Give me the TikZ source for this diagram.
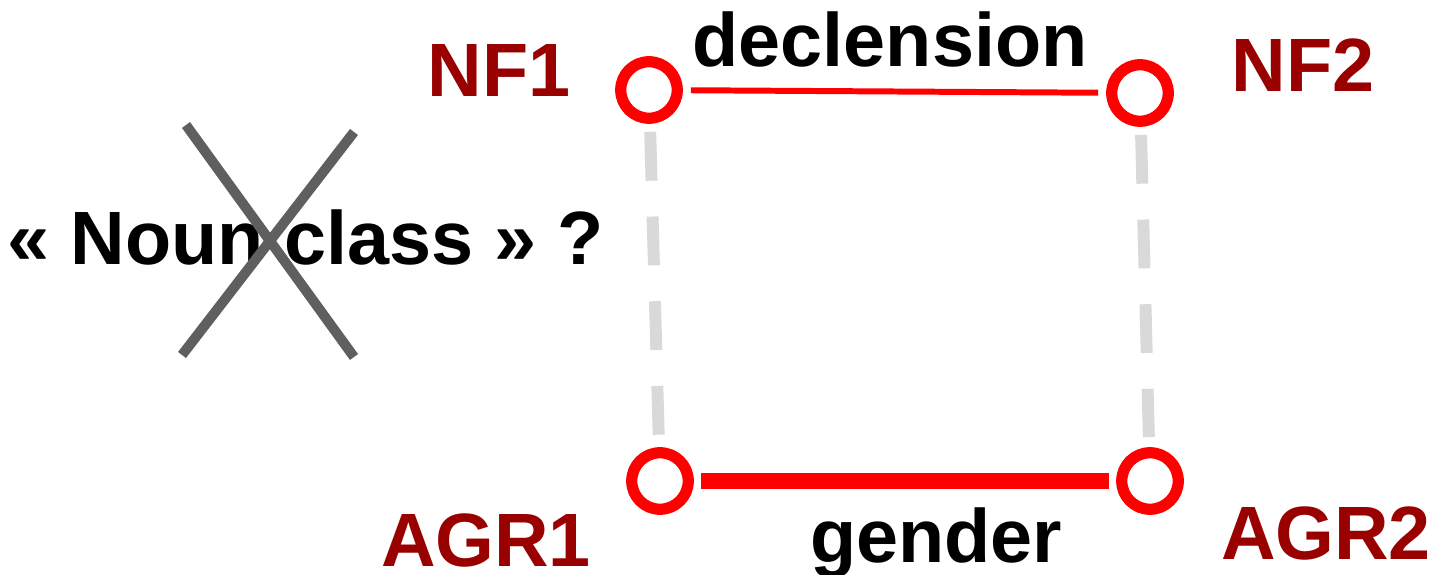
\documentclass[tikz,border=0pt]{standalone}
\usepackage{fontspec}
\setmainfont{Liberation Sans}
\definecolor{labelred}{HTML}{990000}
\definecolor{ringred}{HTML}{FF0000}
\definecolor{dashgray}{HTML}{D9D9D9}
\definecolor{crossgray}{HTML}{5F5F5F}

\begin{document}
\begin{tikzpicture}[font=\fontsize{21.5}{26}\selectfont\bfseries,
  ring/.style={shape=circle,draw=ringred,line width=3.2pt,minimum size=0.565cm,inner sep=0pt},
  lbl/.style={text=labelred,anchor=base,inner sep=0pt},
  word/.style={anchor=base,inner sep=0pt},
  faint/.style={draw=dashgray,line width=3.4pt,dash pattern=on 13.9pt off 10.2pt,shorten <=0.08cm,shorten >=0.1cm}]
\useasboundingbox (0,0) rectangle (14.34,-5.75);
\node[ring] (nf1) at (6.49,-0.90) {};
\node[ring] (nf2) at (11.40,-0.93) {};
\node[ring] (agr1) at (6.60,-4.81) {};
\node[ring] (agr2) at (11.50,-4.81) {};
\node[lbl] (l1) at (4.99,-0.97) {NF1};
\node[lbl] (l2) at (13.03,-0.92) {NF2};
\node[lbl] (l3) at (4.86,-5.67) {AGR1};
\node[lbl] (l4) at (13.26,-5.60) {AGR2};
\node[word] (decl) at (8.90,-0.67) {declension};
\node[word] (gend) at (9.36,-5.63) {gender};
\node[word] (nc) at (3.06,-2.65) {« Noun class » ?};
\draw[faint] (nf1) -- (agr1);
\draw[faint] (nf2) -- (agr2);
\draw[ringred,line width=1.7pt,shorten <=0.08cm,shorten >=0.08cm] (nf1) -- (nf2);
\draw[ringred,line width=4.5pt,shorten <=0.075cm,shorten >=0.075cm] (agr1) -- (agr2);
% crossing out
\draw[crossgray,line width=2.85pt] (1.86,-1.25) -- (3.54,-3.57);
\draw[crossgray,line width=2.85pt] (3.54,-1.32) -- (1.82,-3.55);
\end{tikzpicture}
\end{document}
